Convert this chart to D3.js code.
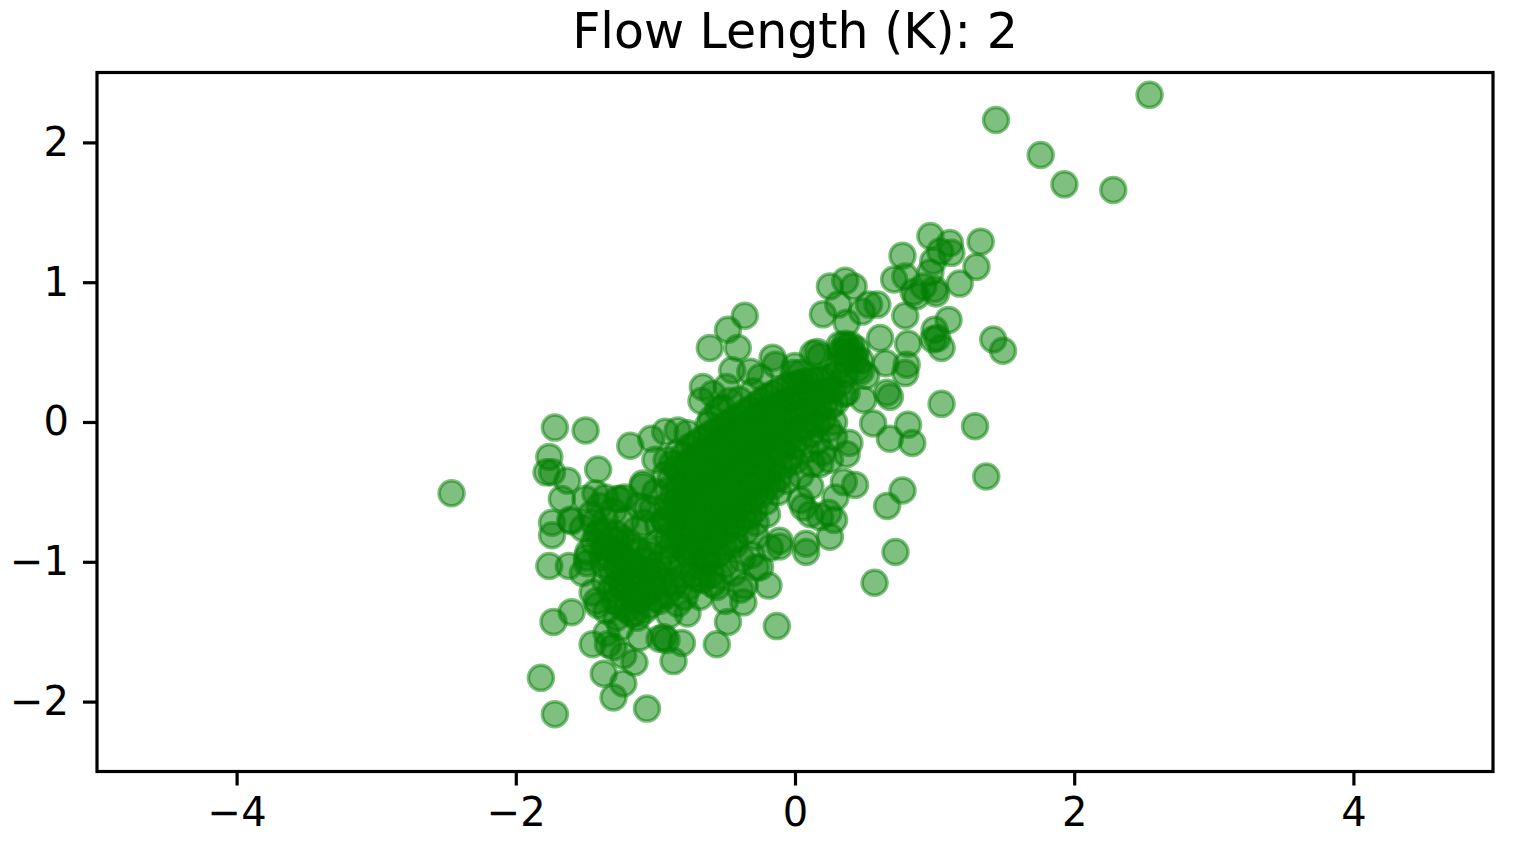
<!DOCTYPE html>
<html>
<head>
<meta charset="utf-8">
<script src="https://cdn.jsdelivr.net/npm/d3@7"></script>
<style>
  body { margin: 0; background: #fff; }
  text { font-family: "DejaVu Sans", sans-serif; }
</style>
</head>
<body>
<svg id="chart" width="1519" height="847"></svg>
<script>
// chart title and ticks
const titleText = "Flow Length (K): 2";
const xTicks = [-4, -2, 0, 2, 4];
const yTicks = [-2, -1, 0, 1, 2];

// far-off points
const outlierPts = [
  [2.54, 2.34], [1.44, 2.16], [1.76, 1.91], [1.93, 1.70], [2.28, 1.66],
  [-2.46, -0.51]
];

// upper right arm of the cloud
const upperArmPts = [
  [0.97, 1.33], [1.33, 1.29], [0.77, 1.19], [1.11, 1.28], [1.12, 1.21], [1.04, 1.22],
  [1.30, 1.11], [0.99, 1.15], [0.97, 1.07], [0.79, 1.04], [0.71, 1.02], [1.18, 0.99],
  [1.00, 0.95], [0.85, 0.93], [1.01, 0.92], [0.92, 0.97], [0.87, 0.90], [0.79, 0.76],
  [0.25, 0.97], [0.36, 1.01], [0.42, 0.97], [0.20, 0.77], [0.31, 0.84], [0.37, 0.71],
  [0.53, 0.84], [0.59, 0.84], [0.48, 0.79], [1.10, 0.73], [1.00, 0.66], [1.02, 0.60],
  [1.05, 0.53], [0.99, 0.59], [1.42, 0.59], [1.49, 0.51], [0.61, 0.60], [0.81, 0.56],
  [0.37, 0.54], [0.41, 0.50], [0.32, 0.55], [0.16, 0.50], [0.18, 0.47], [0.65, 0.42],
  [0.80, 0.41], [0.79, 0.35], [0.47, 0.44], [0.47, 0.36], [0.51, 0.33], [0.66, 0.21],
  [0.68, 0.18], [0.49, 0.16], [0.37, 0.21], [0.56, -0.01], [0.68, -0.12], [0.81, -0.02],
  [0.84, -0.15], [1.05, 0.13], [1.29, -0.03], [1.37, -0.39], [0.77, -0.49], [0.66, -0.60],
  [0.43, -0.45], [0.35, -0.43], [0.29, -0.54], [0.24, -0.65], [0.39, -0.15], [0.37, -0.23],
  [0.28, -0.11], [0.25, -0.27], [0.18, -0.30], [0.04, -0.56], [0.11, -0.46], [-0.01, 0.35],
  [0.13, 0.49], [0.06, -0.61], [0.11, -0.66], [0.28, -0.70], [0.25, -0.82], [0.08, -0.87],
  [0.18, -0.68], [0.08, -0.93], [0.57, -1.15], [0.72, -0.93]
];

// upper left arm and left edge of the core
const upperLeftPts = [
  [-0.36, 0.76], [-0.48, 0.66], [-0.61, 0.53], [-0.41, 0.53], [-0.16, 0.46], [-0.14, 0.41],
  [-0.66, 0.25], [-0.67, 0.15], [-0.45, 0.37], [-0.32, 0.36], [-0.47, 0.15], [-0.49, 0.25],
  [0.00, 0.40], [0.04, 0.35], [-1.18, -0.17], [-1.03, -0.12], [-0.93, -0.07], [-0.84, -0.06],
  [-0.77, -0.08], [-1.00, -0.27], [-1.09, -0.44], [-1.22, -0.54], [-1.06, -0.62], [-1.21, -0.70],
  [-0.59, 0.20], [-0.55, 0.09], [-0.25, 0.32], [-0.60, 0.02], [-0.52, 0.10], [-0.40, 0.16],
  [-0.30, 0.22], [-0.62, -0.02]
];

// left and lower left part
const lowerLeftPts = [
  [-1.72, -0.04], [-1.50, -0.06], [-1.76, -0.25], [-1.78, -0.36], [-1.74, -0.36], [-1.63, -0.42],
  [-1.41, -0.34], [-1.67, -0.55], [-1.43, -0.51], [-1.36, -0.54], [-1.25, -0.55], [-1.74, -0.72],
  [-1.60, -0.71], [-1.74, -0.81], [-1.40, -0.79], [-1.76, -1.03], [-1.62, -1.03], [-1.49, -1.01],
  [-1.52, -1.08], [-1.60, -1.36], [-1.73, -1.43], [-1.42, -1.28], [-1.45, -1.59], [-1.35, -1.51],
  [-1.25, -1.47], [-1.15, -1.72], [-1.23, -1.67], [-1.37, -1.80], [-1.23, -1.87], [-1.30, -1.97],
  [-1.82, -1.83], [-1.72, -2.09], [-1.06, -2.05], [-1.11, -1.54], [-0.97, -1.55], [-0.87, -1.71],
  [-1.27, -0.55], [-1.09, -0.46], [-1.61, -0.70], [-1.49, -0.97], [-1.45, -1.22], [-1.41, -1.31],
  [-1.34, -1.59], [-1.42, -0.80], [-1.37, -0.89], [-1.28, -0.85], [-1.14, -0.77], [-1.04, -0.92],
  [-1.06, -1.06], [-0.94, -1.13], [-0.97, -1.28], [-1.14, -1.24], [-1.14, -1.36], [-1.28, -1.40],
  [-0.94, -1.54], [-0.79, -1.25], [-0.66, -1.13], [-0.60, -1.09], [-0.56, -1.18], [-0.48, -1.43],
  [-0.56, -1.59], [-0.94, -0.70], [-0.85, -0.63], [-0.78, -0.51], [-1.25, -1.13], [-1.18, -1.03],
  [-1.16, -1.25], [-1.35, -1.35], [-0.11, -0.89], [-0.28, -1.04], [-0.19, -1.17], [-0.37, -1.29],
  [-0.39, -1.20], [-0.13, -1.46], [-0.59, -1.16], [-0.68, -1.25], [-0.77, -1.37], [-0.81, -1.58],
  [-0.92, -1.56], [-1.30, -1.61], [-0.73, -1.09], [-0.87, -1.18], [-0.18, -0.90], [-0.31, -0.95],
  [-0.43, -0.88], [-0.25, -1.04], [-0.36, -1.17], [-0.50, -1.28], [-0.11, -0.85], [-0.28, -0.82],
  [-1.50, -0.55], [-1.46, -0.66], [-1.52, -0.76], [-1.44, -0.86], [-1.48, -0.93], [-1.40, -0.60],
  [-1.36, -0.70], [-1.30, -0.64], [-1.44, -0.72], [-1.38, -0.96],
  [-0.90, -1.05], [-0.86, -1.15], [-0.92, -1.24], [-0.84, -1.30], [-0.90, -1.38], [-0.80, -1.10],
  [-0.76, -1.18], [-0.62, -1.00], [-0.50, -1.02], [-0.44, -1.08], [-0.38, -0.98], [-0.54, -1.10],
  [-0.70, -1.12], [-1.00, -0.50], [-1.02, -0.62], [-0.98, -0.74], [-1.08, -0.72], [-1.12, -0.60],
  [-0.98, -0.86]
];

// lower left blob, tightly packed
const lowerBlobPts = [
  [-1.36, -0.78], [-1.35, -0.90], [-1.37, -1.02], [-1.36, -1.14],
  [-1.28, -0.80], [-1.29, -0.92], [-1.27, -1.04], [-1.28, -1.16], [-1.29, -1.28],
  [-1.20, -0.86], [-1.21, -0.98], [-1.19, -1.10], [-1.20, -1.22], [-1.21, -1.34],
  [-1.12, -0.92], [-1.13, -1.04], [-1.11, -1.16], [-1.12, -1.28], [-1.13, -1.40],
  [-1.04, -0.95], [-1.05, -1.07], [-1.03, -1.19], [-1.04, -1.31],
  [-0.98, -1.02], [-0.97, -1.14], [-0.99, -1.26],
  [-1.32, -0.84], [-1.33, -0.96], [-1.31, -1.08], [-1.32, -1.20],
  [-1.24, -0.83], [-1.25, -0.95], [-1.23, -1.07], [-1.24, -1.19], [-1.25, -1.31],
  [-1.16, -0.89], [-1.17, -1.01], [-1.15, -1.13], [-1.16, -1.25], [-1.17, -1.37],
  [-1.08, -0.99], [-1.09, -1.11], [-1.07, -1.23], [-1.08, -1.35],
  [-1.00, -1.08], [-1.01, -1.20]
];

// dense core along the diagonal
const corePts = [
  [-0.92, -0.27], [-0.93, -0.38], [-0.91, -0.49], [-0.92, -0.60], [-0.93, -0.71], [-0.91, -0.82], [-0.92, -0.93],
  [-0.84, -0.22], [-0.85, -0.33], [-0.83, -0.44], [-0.84, -0.55], [-0.85, -0.66], [-0.83, -0.77], [-0.84, -0.88],
  [-0.76, -0.18], [-0.77, -0.29], [-0.75, -0.39], [-0.76, -0.50], [-0.77, -0.61], [-0.75, -0.72], [-0.76, -0.83], [-0.77, -0.94],
  [-0.68, -0.13], [-0.69, -0.23], [-0.67, -0.34], [-0.68, -0.45], [-0.69, -0.55], [-0.67, -0.66], [-0.68, -0.77], [-0.69, -0.89], [-0.67, -1.00],
  [-0.60, -0.08], [-0.61, -0.19], [-0.59, -0.30], [-0.60, -0.40], [-0.61, -0.51], [-0.59, -0.62], [-0.60, -0.73], [-0.61, -0.85], [-0.59, -0.96],
  [-0.52, -0.04], [-0.53, -0.14], [-0.51, -0.24], [-0.52, -0.35], [-0.53, -0.45], [-0.51, -0.56], [-0.52, -0.67], [-0.53, -0.79], [-0.51, -0.90],
  [-0.44, 0.02], [-0.45, -0.08], [-0.43, -0.18], [-0.44, -0.28], [-0.45, -0.39], [-0.43, -0.50], [-0.44, -0.61], [-0.45, -0.72], [-0.43, -0.84],
  [-0.36, 0.07], [-0.37, -0.03], [-0.35, -0.13], [-0.36, -0.24], [-0.37, -0.34], [-0.35, -0.45], [-0.36, -0.56], [-0.37, -0.68], [-0.35, -0.78],
  [-0.28, 0.12], [-0.29, 0.03], [-0.27, -0.08], [-0.28, -0.18], [-0.29, -0.29], [-0.27, -0.40], [-0.28, -0.51], [-0.29, -0.63],
  [-0.20, 0.18], [-0.21, 0.08], [-0.19, -0.03], [-0.20, -0.13], [-0.21, -0.24], [-0.19, -0.35], [-0.20, -0.46], [-0.21, -0.57],
  [-0.12, 0.22], [-0.13, 0.12], [-0.11, 0.02], [-0.12, -0.08], [-0.13, -0.18], [-0.11, -0.29], [-0.12, -0.40],
  [-0.04, 0.26], [-0.05, 0.16], [-0.03, 0.06], [-0.04, -0.05], [-0.05, -0.14], [-0.03, -0.25],
  [0.04, 0.28], [0.03, 0.18], [0.05, 0.08], [0.04, -0.03], [0.03, -0.12],
  [0.12, 0.30], [0.11, 0.20], [0.13, 0.10], [0.12, 0.00], [0.11, -0.09],
  [0.20, 0.31], [0.19, 0.21], [0.21, 0.12], [0.20, 0.02],
  [0.28, 0.33], [0.27, 0.23], [0.29, 0.14],
  [0.36, 0.56], [0.35, 0.50], [0.37, 0.44], [0.36, 0.34], [0.35, 0.20],
  [0.44, 0.52], [0.43, 0.45], [0.45, 0.38],
  [-0.12, -0.50], [0.00, -0.28], [0.08, -0.20], [0.16, -0.14], [0.24, -0.05], [0.04, -0.38],
  [-0.06, -0.42], [0.12, -0.30], [0.20, -0.22], [0.28, 0.00], [-0.20, -0.66], [-0.28, -0.72]
];

// second layer filling the core between the first one
const coreFillPts = [
  [-0.88, -0.30], [-0.89, -0.41], [-0.87, -0.52], [-0.88, -0.63], [-0.89, -0.74], [-0.87, -0.86], [-0.88, -0.97],
  [-0.80, -0.24], [-0.81, -0.35], [-0.79, -0.46], [-0.80, -0.57], [-0.81, -0.68], [-0.79, -0.79], [-0.80, -0.90], [-0.81, -1.00],
  [-0.72, -0.16], [-0.73, -0.27], [-0.71, -0.38], [-0.72, -0.49], [-0.73, -0.60], [-0.71, -0.71], [-0.72, -0.82], [-0.73, -0.93], [-0.71, -1.03],
  [-0.64, -0.11], [-0.65, -0.22], [-0.63, -0.33], [-0.64, -0.44], [-0.65, -0.55], [-0.63, -0.66], [-0.64, -0.77], [-0.65, -0.88], [-0.63, -0.99],
  [-0.56, -0.06], [-0.57, -0.17], [-0.55, -0.28], [-0.56, -0.39], [-0.57, -0.50], [-0.55, -0.61], [-0.56, -0.72], [-0.57, -0.83], [-0.55, -0.94],
  [-0.48, -0.01], [-0.49, -0.12], [-0.47, -0.23], [-0.48, -0.34], [-0.49, -0.45], [-0.47, -0.56], [-0.48, -0.67], [-0.49, -0.78], [-0.47, -0.88],
  [-0.40, 0.04], [-0.41, -0.07], [-0.39, -0.18], [-0.40, -0.29], [-0.41, -0.40], [-0.39, -0.51], [-0.40, -0.62], [-0.41, -0.73],
  [-0.32, 0.09], [-0.33, -0.02], [-0.31, -0.13], [-0.32, -0.24], [-0.33, -0.35], [-0.31, -0.46], [-0.32, -0.57], [-0.33, -0.68],
  [-0.24, 0.15], [-0.25, 0.04], [-0.23, -0.07], [-0.24, -0.18], [-0.25, -0.29], [-0.23, -0.40], [-0.24, -0.52],
  [-0.16, 0.20], [-0.17, 0.09], [-0.15, -0.02], [-0.16, -0.13], [-0.17, -0.24], [-0.15, -0.35], [-0.16, -0.46],
  [-0.08, 0.24], [-0.09, 0.13], [-0.07, 0.02], [-0.08, -0.09], [-0.09, -0.20], [-0.07, -0.31],
  [0.00, 0.27], [-0.01, 0.16], [0.01, 0.05], [0.00, -0.06], [-0.01, -0.17],
  [0.08, 0.29], [0.07, 0.19], [0.09, 0.08], [0.08, -0.03],
  [0.16, 0.30], [0.15, 0.20], [0.17, 0.09], [0.16, -0.02],
  [0.24, 0.32], [0.23, 0.22], [0.25, 0.11],
  [0.32, 0.50], [0.31, 0.40], [0.33, 0.28],
  [0.40, 0.55], [0.39, 0.47]
];

const allPts = [].concat(outlierPts, upperArmPts, upperLeftPts, lowerLeftPts,
  lowerBlobPts, corePts, coreFillPts);

const svg = d3.select("#chart");
const plotLeft = 97, plotRight = 1493, plotTop = 72.5, plotBottom = 771.5;

const x = d3.scaleLinear().domain([-5, 5]).range([plotLeft, plotRight]);
const y = d3.scaleLinear().domain([-2.5, 2.5]).range([plotBottom, plotTop]);

svg.append("clipPath").attr("id", "plotClip")
  .append("rect")
  .attr("x", plotLeft).attr("y", plotTop)
  .attr("width", plotRight - plotLeft).attr("height", plotBottom - plotTop);

// the points
svg.append("g")
  .attr("clip-path", "url(#plotClip)")
  .selectAll("circle")
  .data(allPts)
  .join("circle")
  .attr("cx", d => x(d[0]))
  .attr("cy", d => y(d[1]))
  .attr("r", 12.5)
  .attr("fill", "#008000")
  .attr("fill-opacity", 0.5)
  .attr("stroke", "#008000")
  .attr("stroke-opacity", 0.5)
  .attr("stroke-width", 3.5);

// axes
const intFormat = d3.format("d");

const xAxis = svg.append("g")
  .attr("transform", `translate(0,${plotBottom})`)
  .call(d3.axisBottom(x).tickValues(xTicks).tickFormat(intFormat).tickSize(14).tickPadding(12));

const yAxis = svg.append("g")
  .attr("transform", `translate(${plotLeft},0)`)
  .call(d3.axisLeft(y).tickValues(yTicks).tickFormat(intFormat).tickSize(14).tickPadding(14));

[xAxis, yAxis].forEach(g => {
  g.select(".domain").remove();
  g.selectAll(".tick line").attr("stroke", "#000").attr("stroke-width", 3.2);
  g.selectAll(".tick text")
    .attr("fill", "#000")
    .style("font-size", "40px")
    .style("font-family", "'DejaVu Sans', sans-serif");
});

// frame
svg.append("rect")
  .attr("x", plotLeft).attr("y", plotTop)
  .attr("width", plotRight - plotLeft).attr("height", plotBottom - plotTop)
  .attr("fill", "none")
  .attr("stroke", "#000")
  .attr("stroke-width", 3.2);

// title
svg.append("text")
  .attr("x", (plotLeft + plotRight) / 2)
  .attr("y", 48)
  .attr("text-anchor", "middle")
  .style("font-size", "49px")
  .attr("fill", "#000")
  .text(titleText);
</script>
</body>
</html>
